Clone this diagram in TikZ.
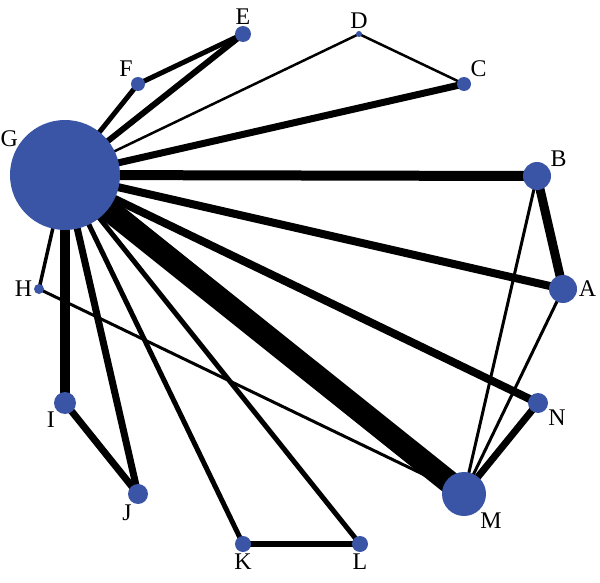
\documentclass[tikz,border=0pt]{standalone}
\usepackage{fontspec}
\setmainfont{Liberation Serif}
\usetikzlibrary{backgrounds}
\definecolor{nodeblue}{RGB}{58,84,166}

\begin{document}
\begin{tikzpicture}[x=0.25mm,y=-0.25mm,
    vert/.style={circle,fill=nodeblue,inner sep=0pt,minimum size=#1*0.5mm},
    every label/.style={font=\fontsize{17}{17}\selectfont,inner sep=1pt},
    link/.style={draw=black,line width=#1*0.25mm}]
    \useasboundingbox (0,0) rectangle (600,583);
    \node[vert=55, label={[label distance=-2pt]150:G}] (G) at (65,175) {};
    \node[vert=8,  label={above:E}]   (E) at (243,34)  {};
    \node[vert=7,  label={120:F}]     (F) at (138,84)  {};
    \node[vert=3,  label={above:D}]   (D) at (359,34)  {};
    \node[vert=7,  label={47:C}]      (C) at (464,84)  {};
    \node[vert=14, label={34:B}]      (B) at (537,176) {};
    \node[vert=14, label={right:A}]   (A) at (563,289) {};
    \node[vert=5,  label={left:H}]    (H) at (39,289)  {};
    \node[vert=11, label={221:I}]     (I) at (65,403)  {};
    \node[vert=10, label={243:J}]     (J) at (138,494) {};
    \node[vert=8,  label={below:K}]   (K) at (243,544) {};
    \node[vert=8,  label={below:L}]   (L) at (360,544) {};
    \node[vert=22, label={311:M}]     (M) at (464,494) {};
    \node[vert=10, label={328:N}]     (N) at (538,403) {};
    \begin{scope}[on background layer]
    \path
    (G.center) edge[link=6]  (E.center)
    (G.center) edge[link=5]  (F.center)
    (F.center) edge[link=5]  (E.center)
    (G.center) edge[link=2.5] (D.center)
    (D.center) edge[link=2.5] (C.center)
    (G.center) edge[link=7]  (C.center)
    (G.center) edge[link=10] (B.center)
    (G.center) edge[link=8]  (A.center)
    (G.center) edge[link=8]  (N.center)
    (G.center) edge[link=23] (M.center)
    (G.center) edge[link=5]  (L.center)
    (G.center) edge[link=5]  (K.center)
    (G.center) edge[link=7]  (J.center)
    (G.center) edge[link=10] (I.center)
    (G.center) edge[link=3.5] (H.center)
    (I.center) edge[link=7]  (J.center)
    (K.center) edge[link=6]  (L.center)
    (H.center) edge[link=3]  (M.center)
    (B.center) edge[link=9]  (A.center)
    (B.center) edge[link=3]  (M.center)
    (A.center) edge[link=3]  (M.center)
    (N.center) edge[link=7]  (M.center);
    \end{scope}
\end{tikzpicture}
\end{document}
